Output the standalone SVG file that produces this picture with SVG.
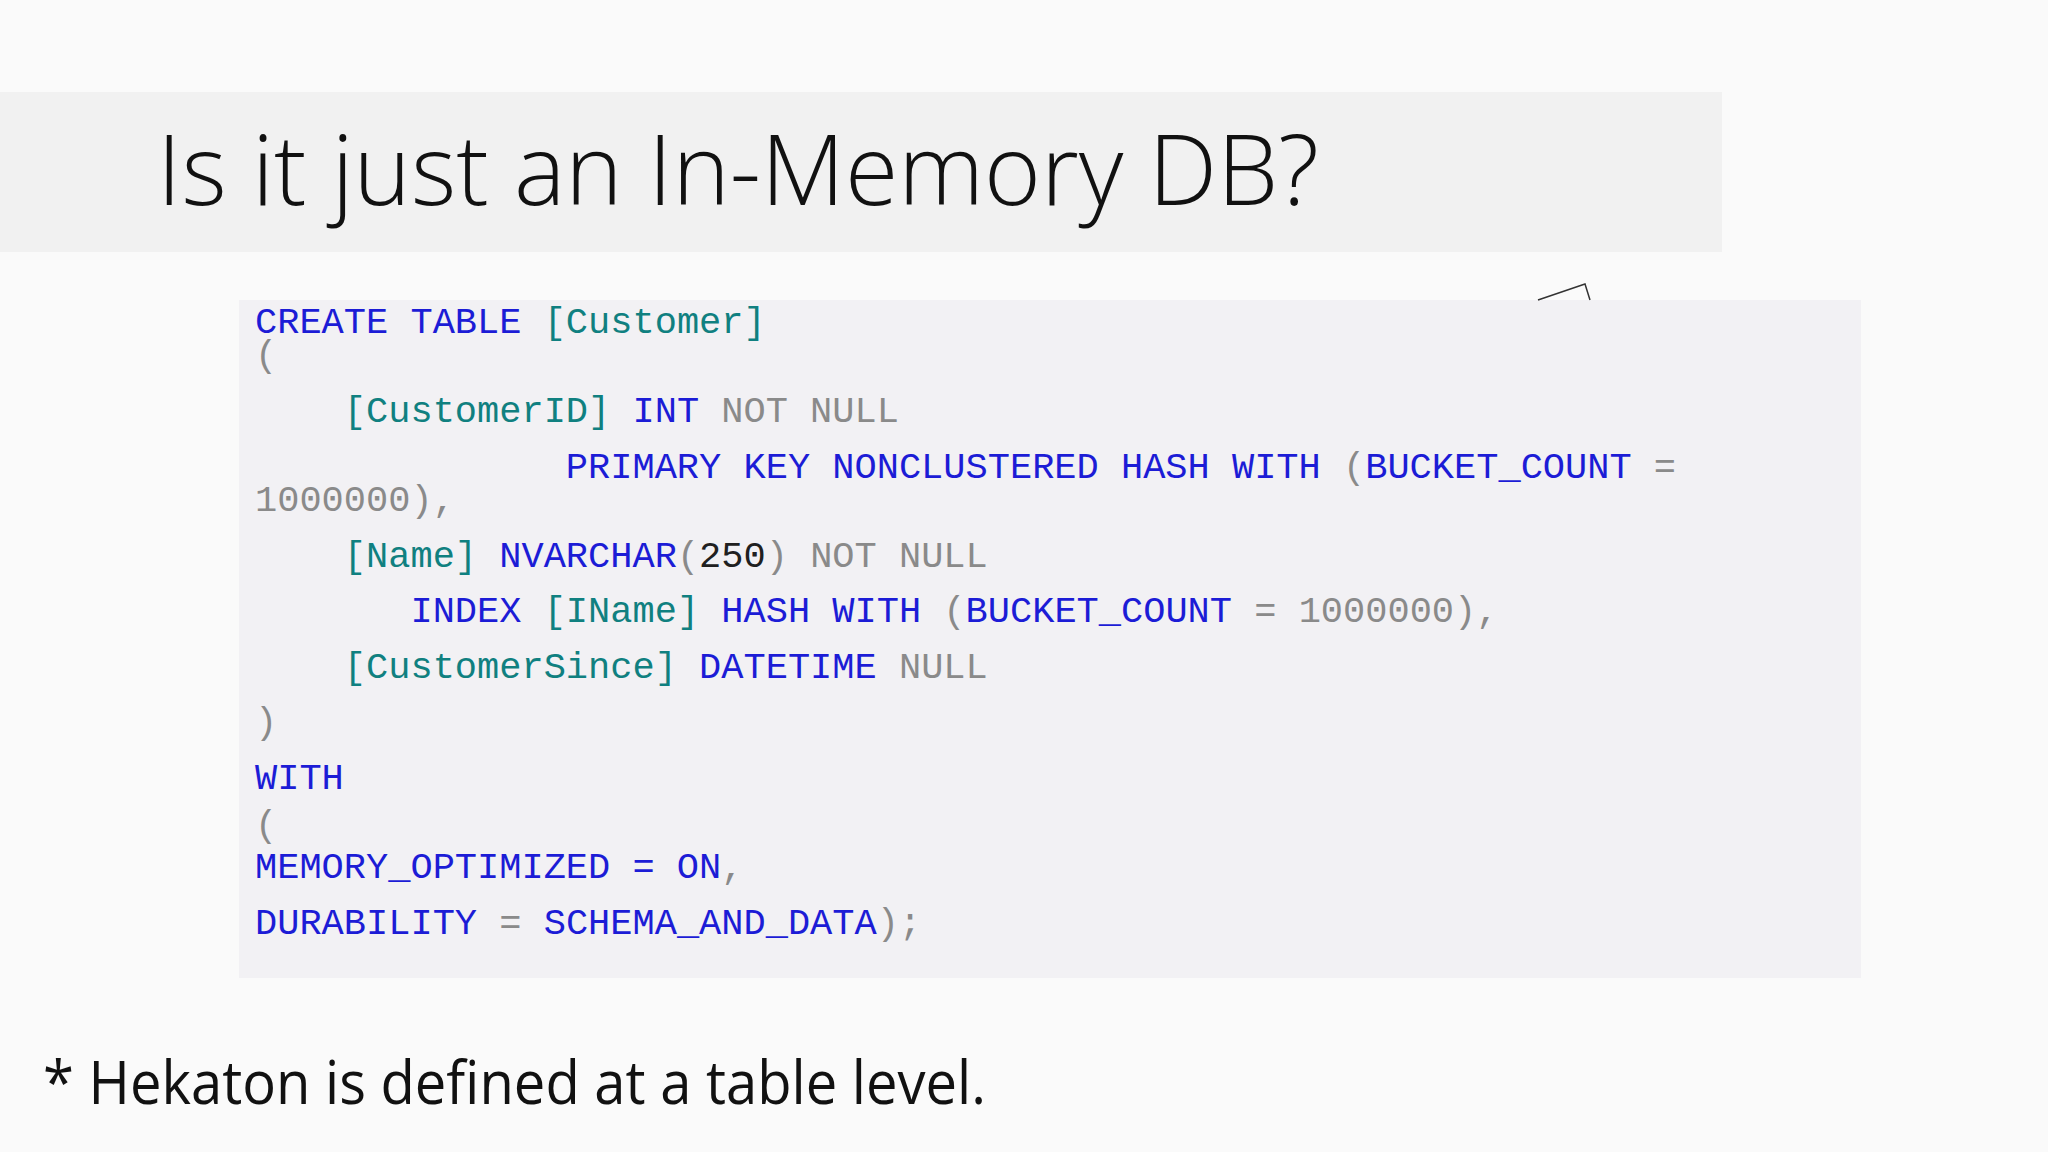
<svg xmlns="http://www.w3.org/2000/svg" width="2048" height="1152" viewBox="0 0 2048 1152">
<style>
.c{font-family:"Liberation Mono","DejaVu Sans Mono",monospace;font-size:37px;white-space:pre}
.b{fill:#1c1cd6}.t{fill:#108080}.g{fill:#8a8a8a}.k{fill:#202020}
</style>
<rect width="2048" height="1152" fill="#fafafa"/>
<g id="title">
<rect x="0" y="92" width="1722" height="160" fill="#f1f1f1"/>
<text x="157" y="205" font-family="Open Sans, sans-serif" font-weight="300" font-size="98" fill="#111" textLength="1162" lengthAdjust="spacingAndGlyphs">Is it just an In-Memory DB?</text>
</g>
<g id="code">
<rect x="239" y="300" width="1622" height="678" fill="#f2f1f4"/>
<polyline points="1538,300 1585,284 1590,300" fill="none" stroke="#333" stroke-width="1.5"/>
<text class="c" x="255" y="333"><tspan class="b">CREATE TABLE </tspan><tspan class="t">[Customer]</tspan></text>
<text class="c g" x="255" y="366">(</text>
<text class="c" x="255" y="422"><tspan class="t">    [CustomerID]</tspan><tspan class="b"> INT </tspan><tspan class="g">NOT NULL</tspan></text>
<text class="c" x="255" y="478"><tspan class="b">              PRIMARY KEY NONCLUSTERED HASH WITH </tspan><tspan class="g">(</tspan><tspan class="b">BUCKET_COUNT </tspan><tspan class="g">=</tspan></text>
<text class="c g" x="255" y="511">1000000),</text>
<text class="c" x="255" y="567"><tspan class="t">    [Name]</tspan><tspan class="b"> NVARCHAR</tspan><tspan class="g">(</tspan><tspan class="k">250</tspan><tspan class="g">) NOT NULL</tspan></text>
<text class="c" x="255" y="622"><tspan class="b">       INDEX </tspan><tspan class="t">[IName]</tspan><tspan class="b"> HASH WITH </tspan><tspan class="g">(</tspan><tspan class="b">BUCKET_COUNT </tspan><tspan class="g">= 1000000),</tspan></text>
<text class="c" x="255" y="678"><tspan class="t">    [CustomerSince]</tspan><tspan class="b"> DATETIME </tspan><tspan class="g">NULL</tspan></text>
<text class="c g" x="255" y="733">)</text>
<text class="c b" x="255" y="789">WITH</text>
<text class="c g" x="255" y="836">(</text>
<text class="c" x="255" y="878"><tspan class="b">MEMORY_OPTIMIZED = ON</tspan><tspan class="g">,</tspan></text>
<text class="c" x="255" y="934"><tspan class="b">DURABILITY </tspan><tspan class="g">= </tspan><tspan class="b">SCHEMA_AND_DATA</tspan><tspan class="g">);</tspan></text>
</g>
<g id="footer">
<text x="43" y="1104" font-family="Open Sans, sans-serif" font-size="60" fill="#111" textLength="943" lengthAdjust="spacingAndGlyphs">* Hekaton is defined at a table level.</text>
</g>
</svg>
